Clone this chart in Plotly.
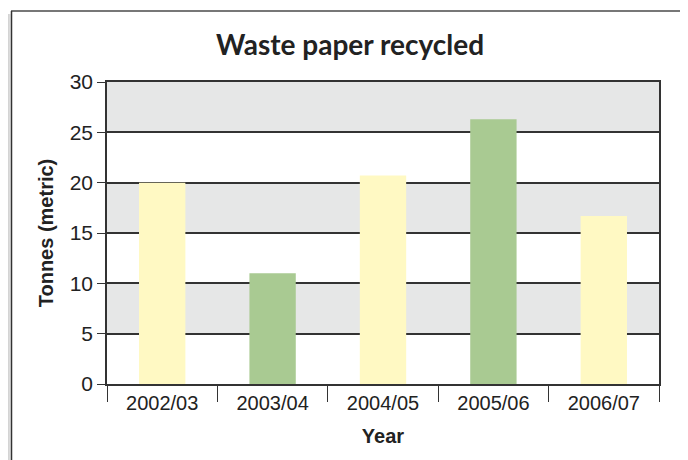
import plotly.graph_objects as go

years = ["2002/03", "2003/04", "2004/05", "2005/06", "2006/07"]
tonnes = [20.0, 11.0, 20.7, 26.3, 16.7]
bar_colors = ["#fff9c3", "#a9ca92", "#fff9c3", "#a9ca92", "#fff9c3"]
y_ticks = [0, 5, 10, 15, 20, 25, 30]
bands = [(5, 10), (15, 20), (25, 30)]

# page body has an 8px margin, so the figure is drawn 8px smaller
W, H = 680, 452
L, R, T, B = 99, 29, 74, 76
pw, ph = W - L - R, H - T - B

def px(x):
    return (x - L) / pw

def py(y):
    return (H - B - y) / ph

fig = go.Figure()
fig.add_trace(go.Bar(x=years, y=tonnes, marker=dict(color=bar_colors, line=dict(width=0)),
                     hoverinfo="x+y"))

shapes = []
for lo, hi in bands:
    shapes.append(dict(type="rect", xref="paper", yref="y", x0=0, x1=1, y0=lo, y1=hi,
                       fillcolor="#e6e7e7", line=dict(width=0), layer="below"))
# frame shadow on the left
for i, c in enumerate(["#d4d4d4", "#dcdcdc", "#ececec"]):
    shapes.append(dict(type="rect", xref="paper", yref="paper", x0=px(i), x1=px(i + 1),
                       y0=py(H + 5), y1=py(6), fillcolor=c, line=dict(width=0), layer="below"))
# frame lines
shapes.append(dict(type="line", xref="paper", yref="paper", x0=px(3), x1=px(W + 5), y0=py(3), y1=py(3),
                   line=dict(color="#777777", width=2)))
shapes.append(dict(type="line", xref="paper", yref="paper", x0=px(3.5), x1=px(3.5), y0=py(3), y1=py(H + 5),
                   line=dict(color="#333333", width=1.5)))

fig.update_layout(
    width=W, height=H,
    margin=dict(l=L, r=R, t=T, b=B),
    paper_bgcolor="white", plot_bgcolor="white",
    bargap=0.58,
    showlegend=False,
    shapes=shapes,
    title=dict(text="<b>Waste paper recycled</b>", x=0.503, xanchor="center", y=0.918, yanchor="middle",
               font=dict(family="Lato, Open Sans, sans-serif", size=28, color="#222222")),
    font=dict(family="Liberation Sans, Arial, sans-serif", size=21, color="#222222"),
    xaxis=dict(
        type="category",
        title=dict(text="<b>Year</b>", font=dict(family="Liberation Sans, Arial, sans-serif", size=20), standoff=16),
        tickson="boundaries", ticks="outside", ticklen=16, tickwidth=1.2, tickcolor="#333333",
        showline=True, linecolor="#333333", linewidth=1.5, mirror=True,
        showgrid=False, tickfont=dict(size=20),
    ),
    yaxis=dict(
        range=[0, 30], tickvals=y_ticks,
        title=dict(text="<b>Tonnes (metric)</b>", font=dict(family="Liberation Sans, Arial, sans-serif", size=20), standoff=11),
        ticks="outside", ticklen=8, tickwidth=1.2, tickcolor="#333333",
        showline=True, linecolor="#333333", linewidth=1.5, mirror=True,
        showgrid=True, gridcolor="#333333", gridwidth=1.5, zeroline=False,
        tickfont=dict(size=21),
    ),
)

fig.write_html("out.html")
